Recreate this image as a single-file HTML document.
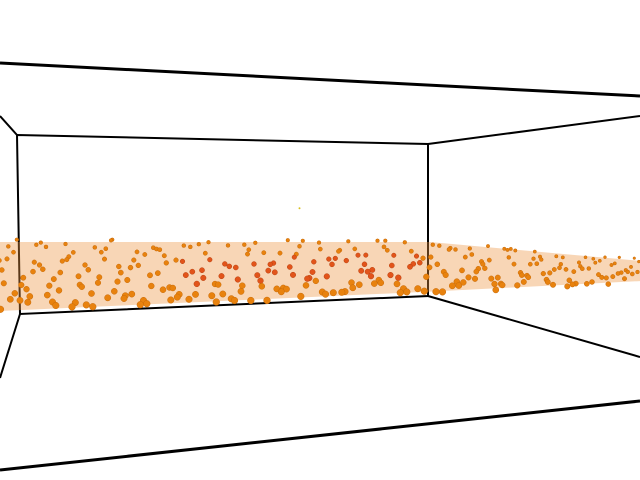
<!DOCTYPE html>
<html><head><meta charset="utf-8"><style>
html,body{margin:0;padding:0;background:#fff;width:640px;height:480px;overflow:hidden}
svg{display:block}
</style></head><body>
<svg id="chart" width="640" height="480" viewBox="0 0 640 480">
<g stroke="#000" fill="none">
<line x1="0" y1="63" x2="640" y2="96" stroke-width="3"/>
<line x1="0" y1="470" x2="640" y2="401" stroke-width="3"/>
<polygon points="17,135 428,144 428,296 20,314" stroke-width="2"/>
<line x1="428" y1="144" x2="640" y2="116" stroke-width="2"/>
<line x1="428" y1="296" x2="640" y2="357" stroke-width="2"/>
<line x1="17" y1="135" x2="0" y2="116" stroke-width="2"/>
<line x1="20" y1="314" x2="0" y2="378" stroke-width="2"/>
</g>
<polygon id="band" fill="#ec9440" fill-opacity="0.38"></polygon>
<g id="pts"></g>
</svg>
<script>
// horizontal position (0..1 across), depth (0 near .. 1 far)
const uVals=[0.01,0.03,0.05,0.07,0.09,0.11,0.13,0.15,0.17,0.19,0.21,0.23,0.25,0.27,0.29,0.31,0.33,0.35,0.37,0.39,0.41,0.43,0.45,0.47,0.49,0.51,0.53,0.55,0.57,0.59,0.61,0.63,0.65,0.67,0.69,0.71,0.73,0.75,0.77,0.79,0.81,0.83,0.85,0.87,0.89,0.91,0.93,0.95,0.97,0.99,
0.02,0.04,0.06,0.08,0.10,0.12,0.14,0.16,0.18,0.20,0.22,0.24,0.26,0.28,0.30,0.32,0.34,0.36,0.38,0.40,0.42,0.44,0.46,0.48,0.50,0.52,0.54,0.56,0.58,0.60,0.62,0.64,0.66,0.68,0.70,0.72,0.74,0.76,0.78,0.80,0.82,0.84,0.86,0.88,0.90,0.92,0.94,0.96,0.98,1.00,
0.015,0.035,0.055,0.075,0.095,0.115,0.135,0.155,0.175,0.195,0.215,0.235,0.255,0.275,0.295,0.315,0.335,0.355,0.375,0.395,0.415,0.435,0.455,0.475,0.495,0.515,0.535,0.555,0.575,0.595,0.615,0.635,0.655,0.675,0.695,0.715,0.735,0.755,0.775,0.795,0.815,0.835,0.855,0.875,0.895,0.915,0.935,0.955,0.975,0.995,
0.025,0.045,0.065,0.085,0.105,0.125,0.145,0.165,0.185,0.205,0.225,0.245,0.265,0.285,0.305,0.325,0.345,0.365,0.385,0.405,0.425,0.445,0.465,0.485,0.505,0.525,0.545,0.565,0.585,0.605,0.625,0.645,0.665,0.685,0.705,0.725,0.745,0.765,0.785,0.805,0.825,0.845,0.865,0.885,0.905,0.925,0.945,0.965,0.985,0.005,
0.012,0.032,0.052,0.072,0.092,0.112,0.132,0.152,0.172,0.192,0.212,0.232,0.252,0.272,0.292,0.312,0.332,0.352,0.372,0.392,0.412,0.432,0.452,0.472,0.492,0.512,0.532,0.552,0.572,0.592,0.612,0.632,0.652,0.672,0.692,0.712,0.732,0.752,0.772,0.792,0.812,0.832,0.852,0.872,0.892,0.912,0.932,0.952,0.972,0.992,
0.022,0.042,0.062,0.082,0.102,0.122,0.142,0.162,0.182,0.202,0.222,0.242,0.262,0.282,0.302,0.322,0.342,0.362,0.382,0.402,0.422,0.442,0.462,0.482,0.502,0.522,0.542,0.562,0.582,0.602,0.622,0.642,0.662,0.682,0.702,0.722,0.742,0.762,0.782,0.802,0.822,0.842,0.862,0.882,0.902,0.922,0.942,0.962,0.982,0.008];
const vVals=[0.05,0.82,0.31,0.64,0.12,0.93,0.47,0.22,0.71,0.38,0.58,0.09,0.85,0.27,0.66,0.15,0.95,0.42,0.03,0.76,0.33,0.61,0.18,0.88,0.45,0.07,0.79,0.25,0.56,0.97,0.36,0.11,0.69,0.48,0.02,0.84,0.29,0.62,0.14,0.91,0.39,0.74,0.21,0.53,0.06,0.87,0.34,0.67,0.19,0.44,
0.73,0.16,0.55,0.89,0.28,0.04,0.63,0.37,0.98,0.13,0.81,0.46,0.24,0.68,0.08,0.52,0.30,0.90,0.17,0.60,0.01,0.77,0.41,0.23,0.94,0.57,0.10,0.72,0.35,0.86,0.20,0.50,0.65,0.03,0.83,0.43,0.26,0.96,0.14,0.59,0.32,0.80,0.07,0.49,0.70,0.11,0.92,0.38,0.63,0.27,
0.40,0.99,0.21,0.58,0.07,0.75,0.32,0.88,0.15,0.51,0.69,0.04,0.84,0.26,0.45,0.92,0.12,0.61,0.36,0.02,0.78,0.19,0.54,0.97,0.30,0.66,0.09,0.83,0.43,0.23,0.71,0.05,0.57,0.90,0.34,0.13,0.76,0.48,0.28,0.94,0.17,0.62,0.39,0.82,0.08,0.53,0.25,0.73,0.44,0.86,
0.18,0.47,0.92,0.35,0.69,0.10,0.56,0.81,0.24,0.40,0.03,0.87,0.64,0.16,0.50,0.78,0.29,0.06,0.91,0.42,0.59,0.20,0.75,0.35,0.11,0.67,0.96,0.45,0.22,0.80,0.04,0.55,0.31,0.89,0.13,0.70,0.47,0.26,0.93,0.09,0.60,0.37,0.84,0.18,0.52,0.72,0.02,0.41,0.97,0.65,
0.58,0.26,0.13,0.95,0.44,0.71,0.35,0.03,0.86,0.60,0.19,0.77,0.49,0.08,0.90,0.31,0.68,0.14,0.55,0.83,0.24,0.46,0.98,0.05,0.62,0.37,0.81,0.16,0.72,0.28,0.53,0.94,0.10,0.67,0.40,0.21,0.88,0.57,0.01,0.74,0.33,0.92,0.15,0.63,0.43,0.06,0.79,0.27,0.50,0.85,
0.90,0.37,0.68,0.22,0.53,0.81,0.06,0.45,0.99,0.17,0.61,0.30,0.75,0.12,0.88,0.40,0.02,0.57,0.26,0.94,0.49,0.14,0.70,0.34,0.83,0.09,0.63,0.21,0.46,0.97,0.31,0.78,0.05,0.54,0.86,0.19,0.41,0.66,0.11,0.91,0.28,0.73,0.48,0.01,0.59,0.84,0.23,0.95,0.36,0.71];
const stray=[[0.47,2.2]]; // single outlier: [u, height]

const g=document.getElementById('pts');
function xScale(u){return u*650-6;}
function topY(x){return 239+(x>430?(x-430)*0.09:0);}
function botY(x){return 313-(x<430?x*0.045:19.4+(x-430)*0.05);}
function yScale(x,v){const b=botY(x),t=topY(x);return b-v*(b-t);}
const bandXs=[0,100,200,300,430,540,640];
document.getElementById('band').setAttribute('points',
  bandXs.map(x=>x+','+(topY(x)+3).toFixed(1)).concat(bandXs.slice().reverse().map(x=>x+','+(botY(x)-2).toFixed(1))).join(' '));
const NS='http://www.w3.org/2000/svg';
const order=uVals.map((u,i)=>i).sort((a,b)=>vVals[b]-vVals[a]);
order.forEach(i=>{
  const x=xScale(uVals[i]);const v=vVals[i];
  const y=yScale(x,v);
  const far=x>430?Math.min(1,(x-430)/210):0;
  const r=(3.4-1.6*v)*(1-0.3*far);
  const c=document.createElementNS(NS,'circle');
  
  
  c.setAttribute('cx',x.toFixed(1));c.setAttribute('cy',y.toFixed(1));c.setAttribute('r',r.toFixed(2));
  const central=x>180&&x<420&&v>0.3&&v<0.75;
  c.setAttribute('fill',central?'#e2541a':'#e8820e');
  c.setAttribute('stroke',central?'#b8400f':'#c86a08');c.setAttribute('stroke-width','0.5');
  g.appendChild(c);
});
stray.forEach(s=>{
  const c=document.createElementNS(NS,'circle');
  
  
  c.setAttribute('cx',xScale(s[0]).toFixed(1));c.setAttribute('cy',(yScale(xScale(s[0]),1)-s[1]*14).toFixed(1));
  c.setAttribute('r','1');c.setAttribute('fill','#d8c020');
  g.appendChild(c);
});
</script>
</body></html>
